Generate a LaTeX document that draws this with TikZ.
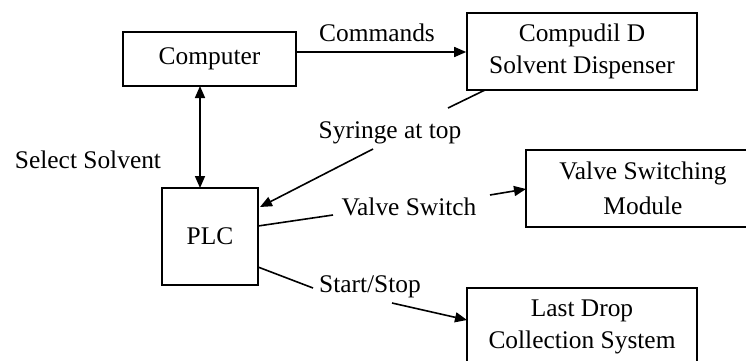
\documentclass[tikz,border=0pt]{standalone}
\usepackage{fontspec}
\setmainfont{Liberation Serif}
\usetikzlibrary{arrows.meta}
\begin{document}
\begin{tikzpicture}[x=1bp,y=-1bp,
  every node/.style={font=\fontsize{25.5}{32}\selectfont},
  block/.style={draw,line width=1.6bp,inner sep=0pt,align=center},
  lbl/.style={inner sep=0pt,anchor=base},
  link/.style={line width=1.6bp},
  arr/.style={link,-{Triangle[length=12bp,width=10bp]}},
  darr/.style={link,{Triangle[length=12bp,width=10bp]}-{Triangle[length=12bp,width=10bp]}}]
\useasboundingbox (0,0) rectangle (746,360);
\begin{scope}
\clip (0,0) rectangle (746,360);
% blocks
\node[block,minimum width=173bp,minimum height=54bp] (comp) at (209.5,59) {Computer};
\node[block,minimum width=230bp,minimum height=77bp] (disp) at (582,51.5) {Compudil D\\Solvent Dispenser};
\node[block,minimum width=96bp,minimum height=97bp] (plc) at (210,236.5) {PLC};
\node[block,minimum width=234bp,minimum height=77bp] (valve) at (643,188.5) {Valve Switching\\[3bp]Module};
\node[block,minimum width=230bp,minimum height=77bp] (drop) at (582,326.5) {Last Drop\\Collection System};
\end{scope}
% labels
\node[lbl] (lcmd) at (377,41) {Commands};
\node[lbl] (lsyr) at (390,138) {Syringe at top};
\node[lbl] (lsel) at (88,168) {Select Solvent};
\node[lbl] (lvs) at (409,215) {Valve Switch};
\node[lbl] (lss) at (370,292) {Start/Stop};
% connector end points
\coordinate (c1) at (200,86);
\coordinate (p1) at (200,188);
\coordinate (d1) at (485,90);
\coordinate (s1) at (448,108);
\coordinate (s2) at (373,149);
\coordinate (p2) at (260,207);
\coordinate (p3) at (258,226);
\coordinate (v1) at (333,215);
\coordinate (v2) at (490,195);
\coordinate (v3) at (526,189);
\coordinate (p4) at (258,267);
\coordinate (t1) at (313,288);
\coordinate (t2) at (392,303);
\coordinate (t3) at (467,320);
% connectors
\draw[arr] (comp.east |- 0,52) -- (disp.west |- 0,52);
\draw[darr] (c1) -- (p1);
\draw[link] (d1) -- (s1);
\draw[arr] (s2) -- (p2);
\draw[link] (p3) -- (v1);
\draw[arr] (v2) -- (v3);
\draw[link] (p4) -- (t1);
\draw[arr] (t2) -- (t3);
\end{tikzpicture}
\end{document}
